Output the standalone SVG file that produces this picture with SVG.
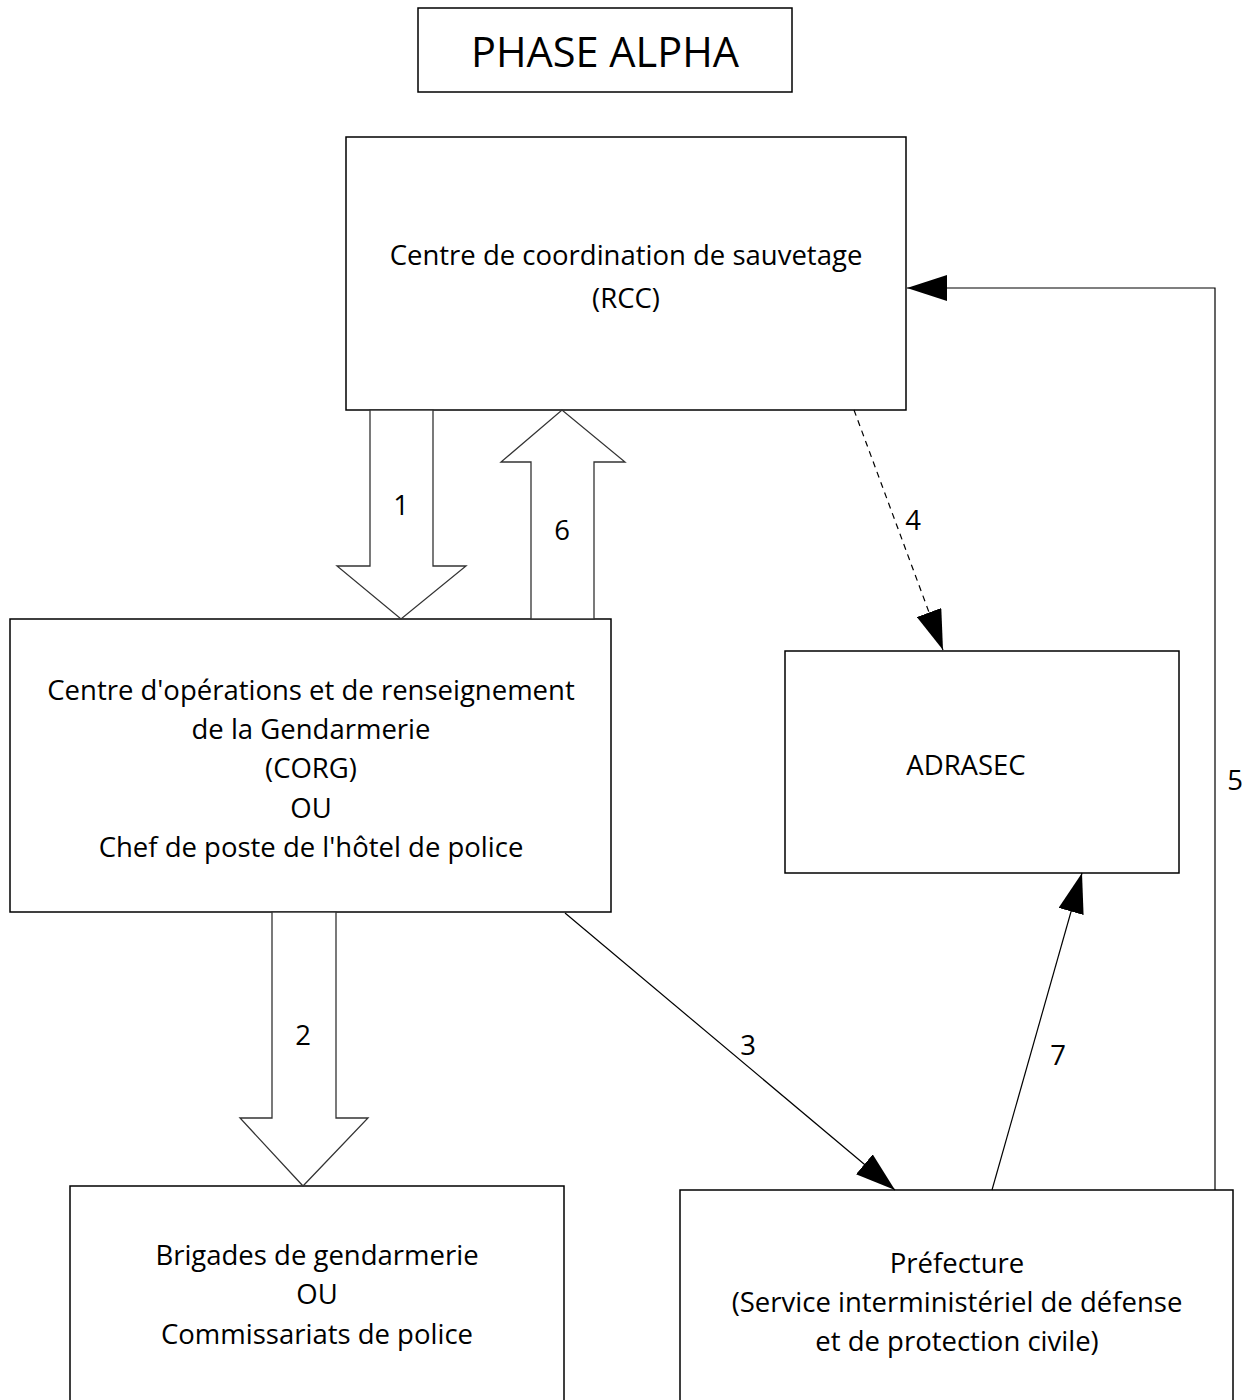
<svg xmlns="http://www.w3.org/2000/svg" width="1248" height="1400" viewBox="0 0 1248 1400">
<style>
.box{fill:#fff;stroke:#000;stroke-width:1.5}
.blk{fill:#fff;stroke:#333;stroke-width:1.3}
.t{font-family:"Open Sans","Noto Sans",sans-serif;font-size:27.5px;fill:#000;text-anchor:middle}
.ln{fill:none;stroke:#000;stroke-width:1.2}
</style>
<defs>
<marker id="ah" viewBox="0 0 40 26" refX="40" refY="13" markerWidth="40" markerHeight="26" markerUnits="userSpaceOnUse" orient="auto">
<path d="M0,0 L40,13 L0,26 Z" fill="#000"/>
</marker>
</defs>
<g id="title">
<rect class="box" x="418" y="8" width="374" height="84"/>
<text class="t" x="605" y="67" style="font-size:41.5px">PHASE ALPHA</text>
</g>
<g id="rcc">
<rect class="box" x="346" y="137" width="560" height="273"/>
<text class="t" x="626" y="265">Centre de coordination de sauvetage</text>
<text class="t" x="626" y="308">(RCC)</text>
</g>
<g id="corg">
<rect class="box" x="10" y="619" width="601" height="293"/>
<text class="t" x="311" y="700">Centre d'opérations et de renseignement</text>
<text class="t" x="311" y="739">de la Gendarmerie</text>
<text class="t" x="311" y="778">(CORG)</text>
<text class="t" x="311" y="818">OU</text>
<text class="t" x="311" y="857">Chef de poste de l'hôtel de police</text>
</g>
<g id="adrasec">
<rect class="box" x="785" y="651" width="394" height="222"/>
<text class="t" x="966" y="775">ADRASEC</text>
</g>
<g id="brigades">
<rect class="box" x="70" y="1186" width="494" height="230"/>
<text class="t" x="317" y="1265">Brigades de gendarmerie</text>
<text class="t" x="317" y="1304">OU</text>
<text class="t" x="317" y="1344">Commissariats de police</text>
</g>
<g id="prefecture">
<rect class="box" x="680" y="1190" width="553" height="226"/>
<text class="t" x="957" y="1273">Préfecture</text>
<text class="t" x="957" y="1312">(Service interministériel de défense</text>
<text class="t" x="957" y="1351">et de protection civile)</text>
</g>
<g id="connectors">
<path id="c1" class="blk" d="M370,410 L433,410 L433,566 L466,566 L401,619 L337,566 L370,566 Z"/>
<path id="c6" class="blk" d="M531,619 L531,462 L501,462 L562,410 L625,462 L594,462 L594,619 Z"/>
<path id="c2" class="blk" d="M272,912 L336,912 L336,1118 L368,1118 L303,1186 L240,1118 L272,1118 Z"/>
<line id="c3" class="ln" x1="565" y1="913" x2="895" y2="1190" marker-end="url(#ah)"/>
<line id="c4" class="ln" x1="854" y1="410" x2="943" y2="650" stroke-dasharray="6,5" marker-end="url(#ah)"/>
<polyline id="c5" class="ln" points="1215,1190 1215,288 907,288" marker-end="url(#ah)"/>
<line id="c7" class="ln" x1="992" y1="1190" x2="1082" y2="873" marker-end="url(#ah)"/>
<text class="t" x="401" y="515">1</text>
<text class="t" x="562" y="540">6</text>
<text class="t" x="303" y="1045">2</text>
<text class="t" x="748" y="1055">3</text>
<text class="t" x="913" y="530">4</text>
<text class="t" x="1235" y="790">5</text>
<text class="t" x="1058" y="1065">7</text>
</g>
</svg>
